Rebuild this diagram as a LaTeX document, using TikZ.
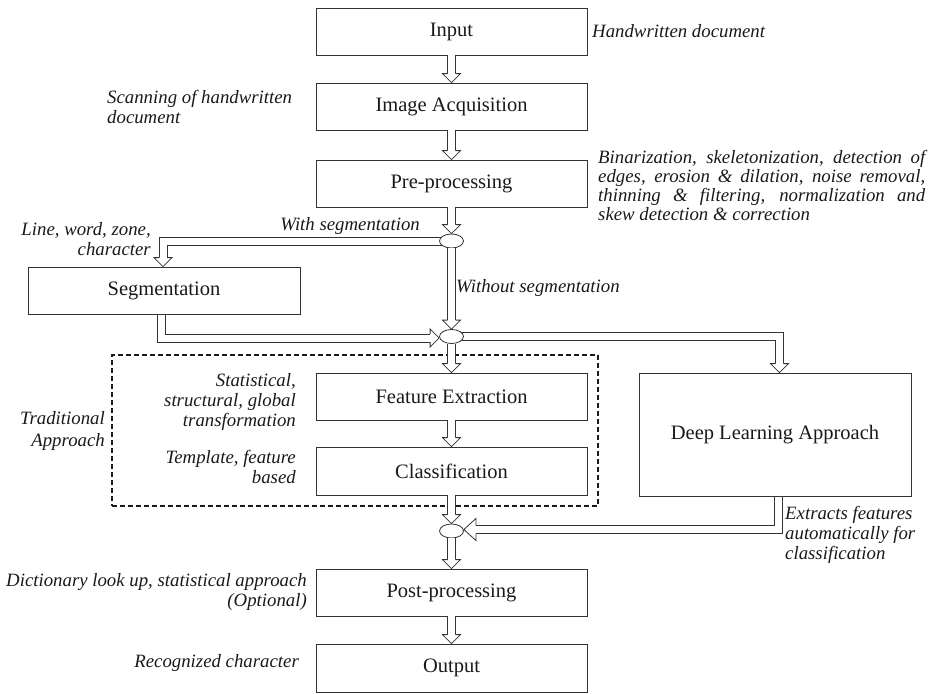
\documentclass[tikz,border=0pt]{standalone}
\usepackage{fontspec}
\setmainfont{Liberation Serif}
\usetikzlibrary{shapes.geometric,calc}
\newcommand\boxfont{\fontsize{20.5}{24}\selectfont}
\newcommand\labfont{\fontsize{18.8}{20}\selectfont\itshape}
\newcommand\varr[2]{\draw[dbl] (#1) -- ($(#2)+(0,-9)$); \pic at (#2) {hdown};}
\begin{document}
\begin{tikzpicture}[x=1pt,y=-1pt,
 box/.style={draw=black!80, line width=0.8pt, minimum width=271pt, minimum height=47pt, inner sep=0pt, font=\boxfont, text=black!90},
 junc/.style={draw=black!80, line width=0.8pt, ellipse, minimum width=24pt, minimum height=14pt, inner sep=0pt},
 lab/.style={font=\labfont, inner sep=0pt, text=black!90},
 dashbox/.style={draw=black!90, line width=1.2pt, dash pattern=on 5pt off 3pt, inner sep=0pt},
 dbl/.style={draw=black!80, line width=0.8pt, double=white, double distance=7pt, line join=miter},
 edge/.style={draw=black!80, line width=0.8pt, line join=miter},
 ahead/.style={draw=black!80, line width=0.8pt, line join=miter, fill=white},
 hdown/.pic={\draw[ahead] (-4,-9)--(-9,-9)--(0,0)--(9,-9)--(4,-9);},
 hright/.pic={\draw[ahead] (-9,-4)--(-9,-9)--(0,0)--(-9,9)--(-9,4);},
 hleft/.pic={\draw[ahead] (12,-4)--(12,-11)--(0,0)--(12,11)--(12,4);}
]
\useasboundingbox (0,0) rectangle (931,693);

% traditional approach frame
\node[dashbox, minimum width=486pt, minimum height=151pt] (trad) at (355,430.5) {};

% boxes
\node[box] (inp) at (451.5,31.5) {Input};
\node[box] (acq) at (451.5,106.5) {Image Acquisition};
\node[box] (pre) at (451.5,183.5) {Pre-processing};
\node[box, minimum width=272pt] (seg) at (164,290.5) {Segmentation};
\node[box] (fe) at (451.5,396.5) {Feature Extraction};
\node[box, minimum height=48pt] (cls) at (451.5,471) {Classification};
\node[box, minimum width=272pt, minimum height=123pt] (dl) at (775,434.5) {Deep Learning Approach};
\node[box] (pp) at (451.5,592.5) {Post-processing};
\node[box, minimum height=48pt] (out) at (451.5,668) {Output};

% junctions
\node[junc] (e1) at (451.5,241) {};
\node[junc] (e2) at (451.5,336.5) {};
\node[junc] (e3) at (451.5,531) {};

% labels
\node[lab, anchor=west] (l1) at (592,31) {Handwritten document};
\node[lab, anchor=west, align=left] (l2) at (107,107) {Scanning of handwritten\\document};
\node[lab, anchor=west, align=left, font=\fontsize{18.8}{19}\selectfont\itshape] (l3) at (598,185) {\makebox[327pt][s]{Binarization, skeletonization, detection of}\\\makebox[327pt][s]{edges, erosion \& dilation, noise removal,}\\\makebox[327pt][s]{thinning \& filtering, normalization and}\\skew detection \& correction};
\node[lab, anchor=east, align=right] (l4) at (151,239) {Line, word, zone,\\character};
\node[lab, anchor=east] (l5) at (420,226) {With segmentation};
\node[lab, anchor=west] (l6) at (456,288) {Without segmentation};
\node[lab, anchor=east, align=right, font=\fontsize{18.8}{21.5}\selectfont\itshape] (l7) at (105,431) {Traditional\\Approach};
\node[lab, anchor=east, align=right] (l8) at (296,402) {Statistical,\\structural, global\\transformation};
\node[lab, anchor=east, align=right] (l9) at (296,467) {Template, feature\\based};
\node[lab, anchor=west, align=left] (l10) at (785,535) {Extracts features\\automatically for\\classification};
\node[lab, anchor=east, align=right] (l11) at (307,592) {Dictionary look up, statistical approach\\(Optional)};
\node[lab, anchor=east] (l12) at (299,663) {Recognized character};

% straight arrows
\varr{inp.south}{acq.north}
\varr{acq.south}{pre.north}
\varr{pre.south}{e1.north}
\varr{e1.south}{e2.north}
\varr{e2.south}{fe.north}
\varr{fe.south}{cls.north}
\varr{cls.south}{e3.north}
\varr{e3.south}{pp.north}
\varr{pp.south}{out.north}

% bent arrows: with segmentation
\coordinate (segin) at ($(seg.north)+(-1,0)$);
\draw[edge] ($(e1.center)+(-9.8,-4)$) -| ($(segin)+(-4,-9)$);
\draw[edge] ($(e1.center)+(-9.8,4)$) -| ($(segin)+(4,-9)$);
\pic at (segin) {hdown};

% segmentation to junction 2
\coordinate (segout) at ($(seg.south)+(-3,0)$);
\coordinate (t2) at ($(e2.west)+(0,1.5)$);
\draw[edge] ($(segout)+(-4,0)$) |- ($(t2)+(-9,4)$);
\draw[edge] ($(segout)+(4,0)$) |- ($(t2)+(-9,-4)$);
\pic at (t2) {hright};

% junction 2 to deep learning
\coordinate (dlin) at ($(dl.north)+(4.5,0)$);
\draw[edge] ($(e2.center)+(9.8,-4)$) -| ($(dlin)+(4,-9)$);
\draw[edge] ($(e2.center)+(9.8,4)$) -| ($(dlin)+(-4,-9)$);
\pic at (dlin) {hdown};

% deep learning to junction 3
\coordinate (dlout) at ($(dl.south)+(3,0)$);
\coordinate (t3) at ($(e3.east)+(0,-1.5)$);
\draw[edge] ($(dlout)+(4,0)$) |- ($(t3)+(12,4)$);
\draw[edge] ($(dlout)+(-4,0)$) |- ($(t3)+(12,-4)$);
\pic at (t3) {hleft};
\end{tikzpicture}
\end{document}
